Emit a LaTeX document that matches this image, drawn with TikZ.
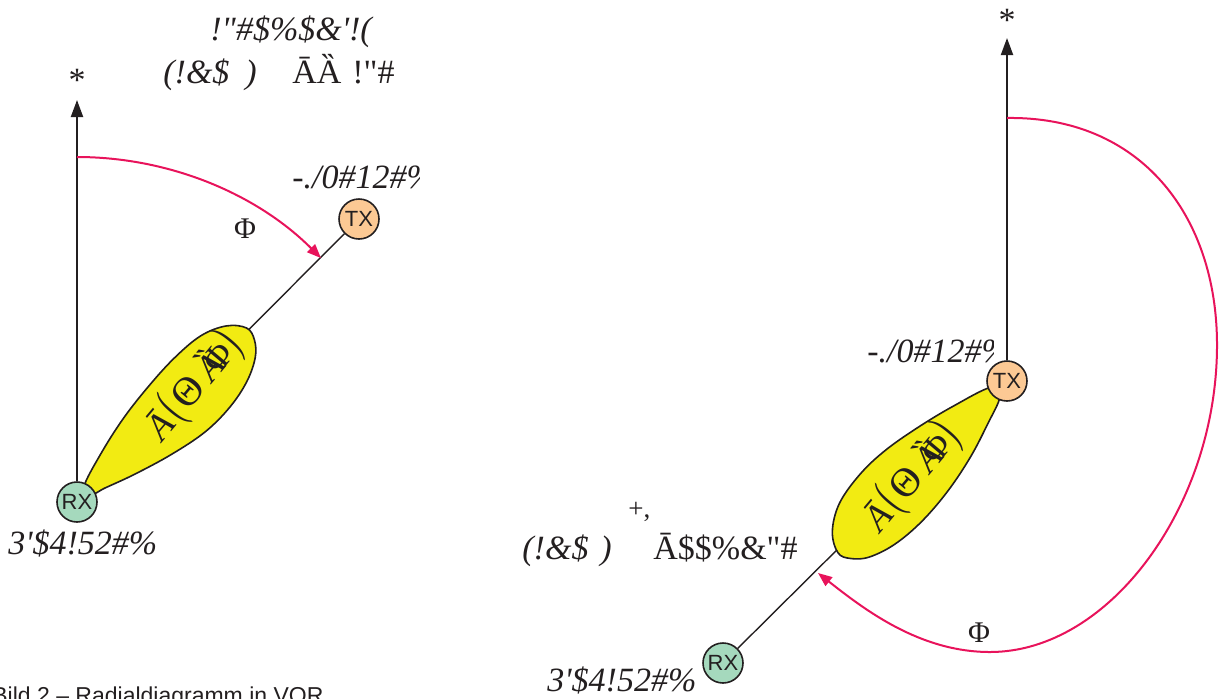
\documentclass[tikz,border=0pt]{standalone}
\usepackage{graphicx}
\usepackage{fontspec}
\setmainfont{Liberation Serif}
\newfontfamily\gar{Liberation Serif}
\newfontfamily\sansf{Liberation Sans}
\usetikzlibrary{arrows.meta}
\pgfdeclarelayer{bg}
\pgfsetlayers{bg,main}
\definecolor{inkc}{HTML}{231F20}
\definecolor{arcc}{HTML}{E8135B}
\definecolor{txc}{HTML}{FCC994}
\definecolor{rxc}{HTML}{A5D9BD}
\definecolor{lobec}{HTML}{F2EB12}
\newcommand{\lobetext}{\textit{Ā}\kern2pt\scalebox{0.75}[1.4]{(}\kern2pt\scalebox{1.1}{Θ}\kern4pt\rlap{\textit{Ȁ}}\kern5pt Φ\kern0pt\scalebox{0.75}[1.4]{)}}
\begin{document}
\begin{tikzpicture}[x=0.5pt,y=-0.5pt,
  station/.style={circle,draw=inkc,line width=0.8pt,minimum size=20pt,inner sep=0pt,text=inkc,font=\sansf\fontsize{11}{11}\selectfont},
  axisline/.style={draw=inkc,line width=1pt,-{Triangle[length=8.5pt,width=6pt]}},
  link/.style={draw=inkc,line width=0.7pt},
  lobe/.style={draw=inkc,line width=0.8pt,fill=lobec},
  anglearc/.style={draw=arcc,line width=1pt,-{Triangle[length=7pt,width=5.5pt]}},
  garit/.style={anchor=base west,inner sep=0pt,text=inkc,font=\gar\fontsize{17}{17}\selectfont\itshape},
  garup/.style={anchor=base west,inner sep=0pt,text=inkc,font=\gar\fontsize{17}{17}\selectfont},
  garsup/.style={anchor=base west,inner sep=0pt,text=inkc,font=\gar\fontsize{13.5}{13.5}\selectfont},
  greek/.style={inner sep=0pt,text=inkc,font=\gar\fontsize{15}{15}\selectfont},
  starlabel/.style={inner sep=0pt,text=inkc,font=\gar\fontsize{17}{17}\selectfont},
  lobelabel/.style={inner sep=0pt,text=inkc,rotate=50,font=\gar\fontsize{18.5}{18.5}\selectfont},
  caption/.style={anchor=base west,inner sep=0pt,text=inkc,font=\sansf\fontsize{11.5}{11.5}\selectfont},
]
\clip (0,0) rectangle (1219,698);

% ---------------- left panel ----------------
\node[station,fill=rxc] (rx1) at (77,502) {RX};
\node[station,fill=txc] (tx1) at (359,219) {TX};
\coordinate (ax1tip) at (77,100);
\coordinate (arc1s) at (77,157);
\begin{pgfonlayer}{bg}
  \draw[link] (rx1) -- (tx1);
  \begin{scope}[shift={(77,502)},x={(0.35355pt,0.35355pt)},y={(0.35355pt,-0.35355pt)}]
    \path[lobe] plot[smooth cycle,tension=0.6] coordinates {(16,-6) (50,-17) (90,-26) (130,-31) (170,-33) (205,-30) (230,-19) (243,-3) (240,11) (228,24) (205,35) (175,41) (140,41) (100,33) (60,21) (30,10) (16,5)};
  \end{scope}
\end{pgfonlayer}
\draw[axisline] (rx1) -- (ax1tip);
\node[starlabel] (star1) at (77,80) {*};
\draw[anglearc] (arc1s) arc[start angle=-90,end angle=-45,radius=345];
\node[greek] (phi1) at (245,229) {Φ};
\node[lobelabel] (lob1) at (193,387) {\lobetext};
\begin{scope}
  \clip (280,150) rectangle (419,200);
  \node[garit] (txl1) at (292,188) {-./0\#12\#\%};
\end{scope}
\node[garit] (rxl1) at (8,554) {3'\$4!52\#\%};
\node[garit] (top1) at (210,40) {!"\#\$\%\$\&'!(};
\node[garit] (top2a) at (163,83) {(!\&\$};
\node[garit] (top2b) at (245,83) {)};
\node[garup] (top2c) at (292,83) {ĀȀ};
\node[garup] (top2d) at (352,83) {!"\#};

% ---------------- right panel ----------------
\node[station,fill=txc] (tx2) at (1007,381) {TX};
\node[station,fill=rxc] (rx2) at (723,663) {RX};
\coordinate (ax2tip) at (1007,38);
\coordinate (arc2s) at (1007,118);
\coordinate (arc2e) at (818,573);
\begin{pgfonlayer}{bg}
  \draw[link] (rx2) -- (tx2);
  \begin{scope}[shift={(1007,381)},x={(-0.35355pt,-0.35355pt)},y={(0.35355pt,-0.35355pt)}]
    \path[lobe] plot[smooth cycle,tension=0.6] coordinates {(16,-7) (55,-20) (95,-30) (135,-37) (170,-38) (205,-32) (230,-17) (241,2) (236,15) (222,27) (195,36) (160,39) (120,36) (80,28) (45,17) (16,6)};
  \end{scope}
\end{pgfonlayer}
\draw[axisline] (tx2) -- (ax2tip);
\node[starlabel] (star2) at (1007,20) {*};
\draw[anglearc] (arc2s) .. controls (1140,116) and (1217,215) .. (1217,345)
  .. controls (1217,505) and (1110,652) .. (990,652)
  .. controls (920,652) and (865,610) .. (arc2e);
\node[greek] (phi2) at (979,633) {Φ};
\node[lobelabel] (lob2) at (911,478) {\lobetext};
\begin{scope}
  \clip (855,320) rectangle (993,375);
  \node[garit] (txl2) at (867,362) {-./0\#12\#\%};
\end{scope}
\node[garit] (rxl2) at (547,691) {3'\$4!52\#\%};
\node[garsup] (sup2) at (628,517) {+,};
\node[garit] (mid2a) at (522,559) {(!\&\$};
\node[garit] (mid2b) at (600,559) {)};
\node[garup] (mid2c) at (653,559) {Ā\$\$\%\&"\#};

% ---------------- caption (cut by the frame) ----------------
\node[caption] (cap) at (-8,703) {Bild 2 – Radialdiagramm in VOR};
\end{tikzpicture}
\end{document}
